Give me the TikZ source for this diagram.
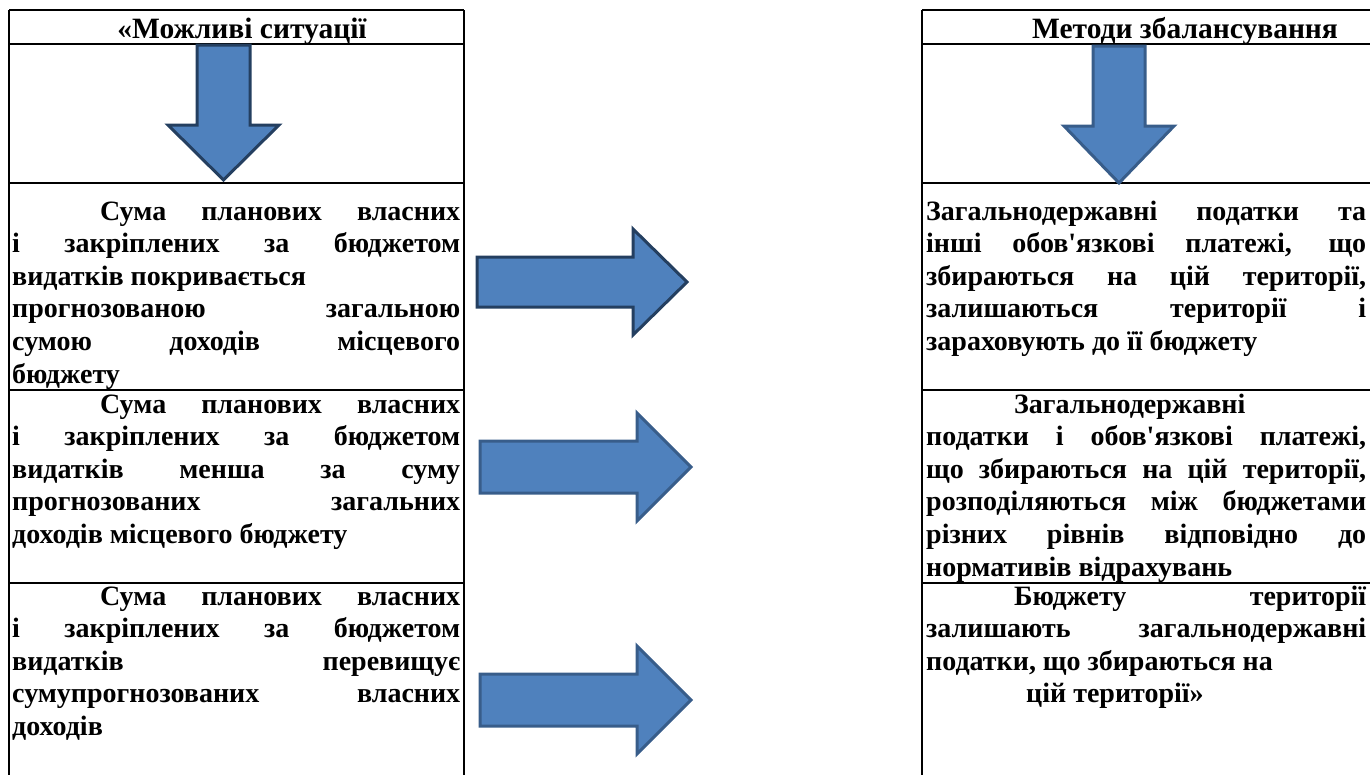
\documentclass[tikz,border=0pt]{standalone}
\usepackage{fontspec}
\newfontfamily\cellfont{Liberation Serif}
\usetikzlibrary{calc}
\newcommand{\LINEPT}{2.5pt}
\newcommand{\ARROWPT}{3pt}
\newcommand{\CELLWL}{448pt}
\newcommand{\CELLWR}{440pt}
\newcommand{\INDENT}{\hspace*{88pt}}
\definecolor{myblue}{HTML}{4F81BD}
\definecolor{mynavy}{HTML}{243F60}
\definecolor{myedge}{HTML}{385D8A}
\hyphenpenalty=10000
\exhyphenpenalty=10000
\tolerance=10000
\tikzset{
	celltext/.style={anchor=north west, inner sep=0pt, align=justify, font=\cellfont\bfseries\fontsize{28}{32.6}\selectfont},
	headtext/.style={anchor=base, inner sep=0pt, font=\cellfont\bfseries\fontsize{29.5}{32.6}\selectfont},
	blockarrow/.style={fill=myblue, draw=myedge, line width=\ARROWPT, line join=miter},
}
\begin{document}
\begin{tikzpicture}[x=1pt,y=-1pt]

		\useasboundingbox (0,0) rectangle (1370,774);
		\clip (0,0) rectangle (1370,774);

		%%
		\coordinate (l1) at (9,10) ;
		\coordinate (l2) at (464,10) ;
		\coordinate (r1) at (922,10) ;
		\coordinate (r2) at (1380,10) ;

		%% left table
		\draw[color=black,line width=\LINEPT] (l1) -- (9,790);
		\draw[color=black,line width=\LINEPT] (l2) -- (464,790);
		\draw[color=black,line width=\LINEPT] (l1) -- (l2);
		\draw[color=black,line width=\LINEPT] (9,44) -- (464,44);
		\draw[color=black,line width=\LINEPT] (9,183) -- (464,183);
		\draw[color=black,line width=\LINEPT] (9,390) -- (464,390);
		\draw[color=black,line width=\LINEPT] (9,583) -- (464,583);

		%% right table
		\draw[color=black,line width=\LINEPT] (r1) -- (922,790);
		\draw[color=black,line width=\LINEPT] (r1) -- (r2);
		\draw[color=black,line width=\LINEPT] (922,44) -- (1380,44);
		\draw[color=black,line width=\LINEPT] (922,183) -- (1380,183);
		\draw[color=black,line width=\LINEPT] (922,390) -- (1380,390);
		\draw[color=black,line width=\LINEPT] (922,583) -- (1380,583);

		%% headers
		\node[headtext] (headsit) at (242,38) {«Можливі ситуації};
		\node[headtext] (headmet) at (1185,38) {Методи збалансування};

		%% down arrows
		\draw[blockarrow,draw=mynavy] (197,45) -- (250,45) -- (250,125) -- (279,125) -- (223.5,180) -- (168,125) -- (197,125) -- cycle;
		\draw[blockarrow] (1093,46) -- (1145,46) -- (1145,126) -- (1174,126) -- (1119,183) -- (1064,126) -- (1093,126) -- cycle;

		%% situations
		\node[celltext,text width=\CELLWL] (sit1) at (12,197) {\strut\INDENT Сума планових власних\linebreak
			і закріплених за бюджетом\linebreak
			видатків покривається\newline
			прогнозованою загальною\linebreak
			сумою доходів місцевого\linebreak
			бюджету};
		\node[celltext,text width=\CELLWL] (sit2) at (12,390) {\strut\INDENT Сума планових власних\linebreak
			і закріплених за бюджетом\linebreak
			видатків менша за суму\linebreak
			прогнозованих загальних\linebreak
			доходів місцевого бюджету};
		\node[celltext,text width=\CELLWL] (sit3) at (12,582) {\strut\INDENT Сума планових власних\linebreak
			і закріплених за бюджетом\linebreak
			видатків перевищує\linebreak
			сумупрогнозованих власних\linebreak
			доходів};

		%% methods
		\node[celltext,text width=\CELLWR] (met1) at (926,197) {\strut Загальнодержавні податки та\linebreak
			інші обов'язкові платежі, що\linebreak
			збираються на цій території,\linebreak
			залишаються території і\linebreak
			зараховують до її бюджету};
		\node[celltext,text width=\CELLWR] (met2) at (926,390) {\strut\INDENT Загальнодержавні\newline
			податки і обов'язкові платежі,\linebreak
			що збираються на цій території,\linebreak
			розподіляються між бюджетами\linebreak
			різних рівнів відповідно до\linebreak
			нормативів відрахувань};
		\node[celltext,text width=\CELLWR] (met3) at (926,582) {\strut\INDENT Бюджету території\linebreak
			залишають загальнодержавні\linebreak
			податки, що збираються на\par
			\hspace*{100pt}цій території»};

		%% right arrows
		\draw[blockarrow,draw=mynavy] (477,257) -- (633,257) -- (633,229) -- (687,282) -- (633,335) -- (633,307) -- (477,307) -- cycle;
		\draw[blockarrow] (480,441) -- (637,441) -- (637,413) -- (691,467) -- (637,521) -- (637,493) -- (480,493) -- cycle;
		\draw[blockarrow] (480,674) -- (637,674) -- (637,646) -- (691,700) -- (637,754) -- (637,726) -- (480,726) -- cycle;

\end{tikzpicture}
\end{document}
